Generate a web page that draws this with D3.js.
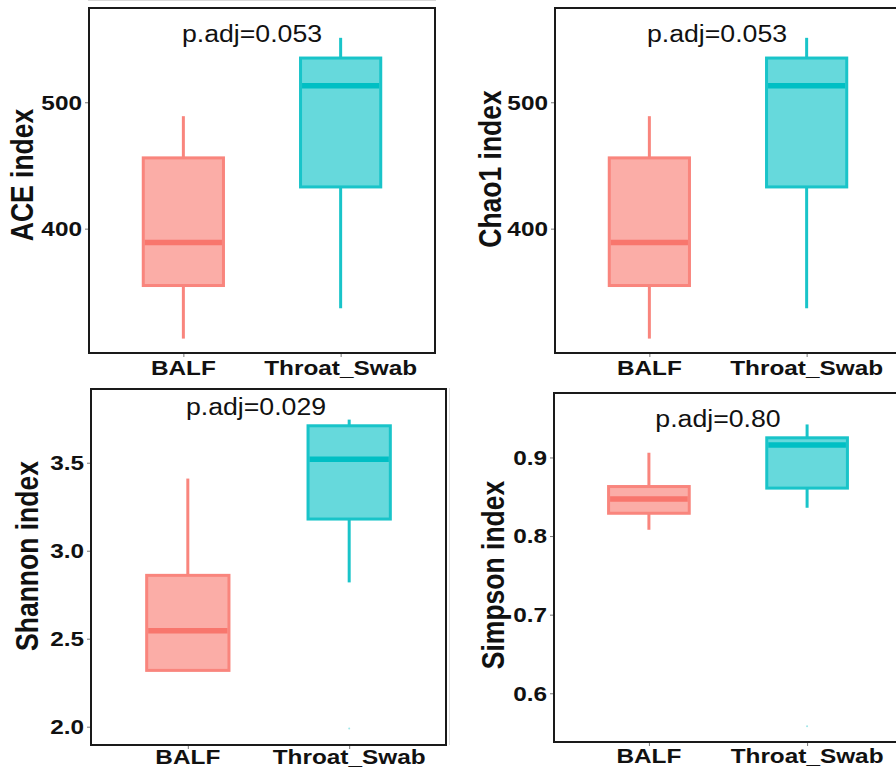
<!DOCTYPE html>
<html>
<head>
<meta charset="utf-8">
<script src="https://cdn.jsdelivr.net/npm/d3@7"></script>
<style>
  body { margin: 0; background: #fff; }
  text { font-family: "Liberation Sans", Arial, sans-serif; }
</style>
</head>
<body>
<div id="chart"></div>
<script>
// Alpha diversity boxplots, BALF vs Throat_Swab //
const groups = ["BALF", "Throat_Swab"];
const indexNames = ["ACE index", "Chao1 index", "Shannon index", "Simpson index"];
const pLabels = ["p.adj=0.053", "p.adj=0.053", "p.adj=0.029", "p.adj=0.80"];

// [min, q1, median, q3, max] per index
const balfStats = [
  [313, 355, 389, 456, 489],
  [313, 355, 389, 456, 489],
  [2.32, 2.32, 2.545, 2.86, 3.41],
  [0.808, 0.829, 0.847, 0.863, 0.906]
];
const throatStats = [
  [337, 433, 513, 535, 551],
  [337, 433, 513, 535, 551],
  [2.82, 3.18, 3.52, 3.71, 3.745],
  [0.836, 0.861, 0.916, 0.925, 0.942]
];
const throatOutliers = [[], [], [1.99], [0.558]];

const yTicks = [[400, 500], [400, 500], [2.0, 2.5, 3.0, 3.5], [0.6, 0.7, 0.8, 0.9]];
const yTickFormat = [d3.format("d"), d3.format("d"), d3.format(".1f"), d3.format(".1f")];
const yDomains = [[301.6, 574.6], [301.6, 574.6], [1.896, 3.919], [0.538, 0.982]];

const width = 896;
const height = 770;
const stretch = 1.16; // text looks horizontally stretched in the source

// frame boxes and label spots for each panel
const layout = [
  { left: 89, top: 8, right: 435, bottom: 353, xLab: 22, labX: 22, labY: 175, pX: 252, pY: 42 },
  { left: 555, top: 8, right: 901, bottom: 353, xLab: 22, labX: 490, labY: 169, pX: 717, pY: 42 },
  { left: 91, top: 389, right: 446, bottom: 745, xLab: 19, labX: 27, labY: 556, pX: 256, pY: 415 },
  { left: 554, top: 393, right: 902, bottom: 742, xLab: 21, labX: 493, labY: 575, pX: 718, pY: 427 }
];

const fills = { BALF: "#FBADA7", Throat_Swab: "#66D9DC" };
const edges = { BALF: "#F9857D", Throat_Swab: "#19C4C9" };
const meds = { BALF: "#F8766D", Throat_Swab: "#00BFC4" };

const svg = d3.select("#chart")
  .append("svg")
  .attr("width", width)
  .attr("height", height);

// faint scan edges
svg.append("line").attr("x1", 88).attr("x2", 436).attr("y1", 0.5).attr("y2", 0.5)
  .attr("stroke", "#d8d8d8").attr("stroke-width", 1);
svg.append("line").attr("x1", 449.5).attr("x2", 449.5).attr("y1", 388).attr("y2", 745)
  .attr("stroke", "#e0e0e0").attr("stroke-width", 1);

function stretchedText(g, x, y, txt) {
  return g.append("text")
    .attr("transform", `translate(${x},${y}) scale(${stretch},1)`)
    .text(txt);
}

layout.forEach((L, i) => {
  const g = svg.append("g").attr("class", "panel");

  const x = d3.scalePoint()
    .domain(groups)
    .range([L.left, L.right])
    .padding(0.6);

  const y = d3.scaleLinear()
    .domain(yDomains[i])
    .range([L.bottom, L.top]);

  const boxW = x.step() * 0.51;

  // y ticks + labels
  const yAxis = d3.axisLeft(y)
    .tickValues(yTicks[i])
    .tickSize(4)
    .tickFormat(() => "");
  const ya = g.append("g")
    .attr("transform", `translate(${L.left},0)`)
    .call(yAxis);
  ya.select(".domain").remove();
  ya.selectAll("line").attr("stroke", "#777").attr("stroke-width", 1);

  yTicks[i].forEach(t => {
    stretchedText(g, L.left - 7, y(t), yTickFormat[i](t))
      .attr("text-anchor", "end")
      .attr("dominant-baseline", "central")
      .attr("font-size", 21)
      .attr("font-weight", "bold")
      .attr("fill", "#111");
  });

  // x ticks + labels
  const xAxis = d3.axisBottom(x).tickSize(4).tickFormat(() => "");
  const xa = g.append("g")
    .attr("transform", `translate(0,${L.bottom})`)
    .call(xAxis);
  xa.select(".domain").remove();
  xa.selectAll("line").attr("stroke", "#777").attr("stroke-width", 1);

  groups.forEach(grp => {
    stretchedText(g, x(grp), L.bottom + L.xLab, grp)
      .attr("text-anchor", "middle")
      .attr("font-size", 21)
      .attr("font-weight", "bold")
      .attr("fill", "#111");
  });

  // boxes
  const stats = [balfStats[i], throatStats[i]];
  groups.forEach((grp, k) => {
    const [mn, q1, md, q3, mx] = stats[k];
    const cx = x(grp);
    g.append("line")
      .attr("x1", cx).attr("x2", cx)
      .attr("y1", y(mx)).attr("y2", y(q3))
      .attr("stroke", edges[grp]).attr("stroke-width", 3);
    g.append("line")
      .attr("x1", cx).attr("x2", cx)
      .attr("y1", y(q1)).attr("y2", y(mn))
      .attr("stroke", edges[grp]).attr("stroke-width", 3);
    g.append("rect")
      .attr("x", cx - boxW / 2)
      .attr("y", y(q3))
      .attr("width", boxW)
      .attr("height", y(q1) - y(q3))
      .attr("fill", fills[grp])
      .attr("stroke", edges[grp])
      .attr("stroke-width", 3);
    g.append("line")
      .attr("x1", cx - boxW / 2 + 1.5).attr("x2", cx + boxW / 2 - 1.5)
      .attr("y1", y(md)).attr("y2", y(md))
      .attr("stroke", meds[grp]).attr("stroke-width", 5.5);
  });

  throatOutliers[i].forEach(v => {
    g.append("circle")
      .attr("cx", x("Throat_Swab"))
      .attr("cy", y(v))
      .attr("r", 1)
      .attr("fill", "#9fe6e8");
  });

  // panel frame
  g.append("rect")
    .attr("x", L.left)
    .attr("y", L.top)
    .attr("width", L.right - L.left)
    .attr("height", L.bottom - L.top)
    .attr("fill", "none")
    .attr("stroke", "#1a1a1a")
    .attr("stroke-width", 2);

  // p.adj annotation
  stretchedText(g, L.pX, L.pY, pLabels[i])
    .attr("text-anchor", "middle")
    .attr("font-size", 23)
    .attr("fill", "#111");

  // y title
  g.append("text")
    .attr("transform", `translate(${L.labX},${L.labY}) scale(${stretch},1) rotate(-90)`)
    .attr("text-anchor", "middle")
    .attr("dominant-baseline", "central")
    .attr("font-size", 26.5)
    .attr("font-weight", "bold")
    .attr("fill", "#111")
    .text(indexNames[i]);
});
</script>
</body>
</html>
